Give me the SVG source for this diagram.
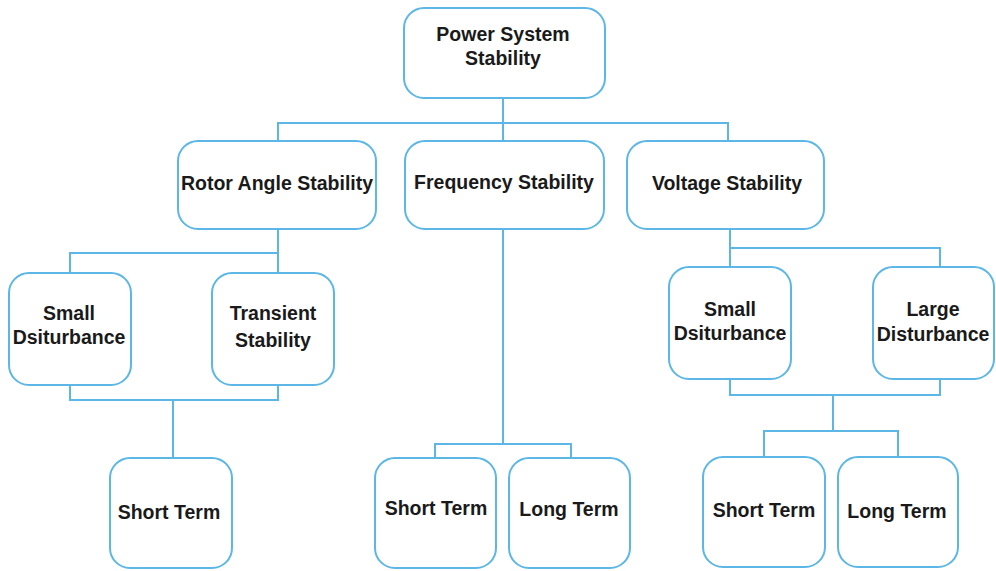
<svg xmlns="http://www.w3.org/2000/svg" width="996" height="571" viewBox="0 0 996 571">
<style>
.box{fill:#fff;stroke:#5cb6e6;stroke-width:2}
.ln{fill:none;stroke:#5cb6e6;stroke-width:2}
text{font-family:"Liberation Sans",Arial,sans-serif;font-weight:bold;font-size:19.5px;fill:#1a1a1a;text-anchor:middle;dominant-baseline:central}
</style>
<rect width="996" height="571" fill="#fff"/>
<g id="connectors">
<path class="ln" d="M503 98V141M278 141V123H728V141"/>
<path class="ln" d="M278 229V253M70 273V253H278V273"/>
<path class="ln" d="M70 385V400H278V385M173 400V458"/>
<path class="ln" d="M503 229V444M435 458V444H571V458"/>
<path class="ln" d="M730 229V248M730 267V248H940V267"/>
<path class="ln" d="M730 379V395H940V379M833 395V431M764 457V431H898V457"/>
</g>
<g id="n-power"><rect class="box" x="404" y="8" width="201" height="90" rx="20"/><text x="503" y="34">Power System</text><text x="503" y="58">Stability</text></g>
<g id="n-rotor"><rect class="box" x="178" y="141" width="198" height="88" rx="20"/><text x="277" y="183">Rotor Angle Stability</text></g>
<g id="n-freq"><rect class="box" x="405" y="141" width="199" height="88" rx="20"/><text x="504" y="182">Frequency Stability</text></g>
<g id="n-volt"><rect class="box" x="627" y="141" width="197" height="88" rx="20"/><text x="727" y="183">Voltage Stability</text></g>
<g id="n-small1"><rect class="box" x="9" y="273" width="122" height="112" rx="20"/><text x="69" y="313">Small</text><text x="69" y="337">Dsiturbance</text></g>
<g id="n-transient"><rect class="box" x="212" y="273" width="122" height="112" rx="20"/><text x="273" y="313">Transient</text><text x="273" y="340">Stability</text></g>
<g id="n-short1"><rect class="box" x="110" y="458" width="122" height="110" rx="20"/><text x="169" y="512">Short Term</text></g>
<g id="n-short2"><rect class="box" x="375" y="458" width="121" height="110" rx="20"/><text x="436" y="508">Short Term</text></g>
<g id="n-long2"><rect class="box" x="509" y="458" width="121" height="110" rx="20"/><text x="569" y="509">Long Term</text></g>
<g id="n-small2"><rect class="box" x="669" y="267" width="122" height="112" rx="20"/><text x="730" y="309">Small</text><text x="730" y="333">Dsiturbance</text></g>
<g id="n-large"><rect class="box" x="873" y="267" width="121" height="112" rx="20"/><text x="933" y="309">Large</text><text x="933" y="334">Disturbance</text></g>
<g id="n-short3"><rect class="box" x="703" y="457" width="122" height="110" rx="20"/><text x="764" y="510">Short Term</text></g>
<g id="n-long3"><rect class="box" x="838" y="457" width="120" height="110" rx="20"/><text x="897" y="511">Long Term</text></g>
</svg>
